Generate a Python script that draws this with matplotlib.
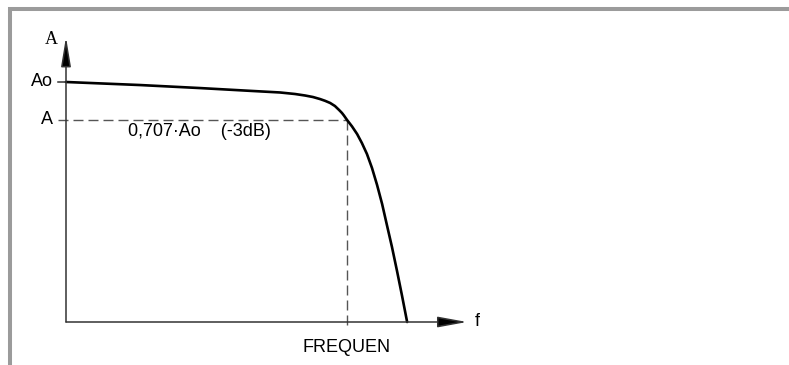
import numpy as np
import matplotlib.pyplot as plt
from matplotlib.lines import Line2D

plt.rcParams['lines.scale_dashes'] = False

# low-pass response, frequency normalised to the cut-off (f/fc), gain in dB
freq = [0.0, 0.263, 0.477, 0.655, 0.762, 0.815, 0.851, 0.879, 0.904, 0.922,
        0.940, 0.957, 0.972, 0.982, 0.989, 1.0, 1.018, 1.036, 1.053, 1.071,
        1.089, 1.107, 1.125, 1.142, 1.160, 1.178, 1.196, 1.214]
gain_db = [0.0, -0.24, -0.48, -0.70, -0.83, -0.95, -1.07, -1.19, -1.35, -1.49,
           -1.66, -1.90, -2.22, -2.45, -2.65, -3.0, -3.52, -4.12, -4.83, -5.70,
           -6.81, -8.15, -9.66, -11.32, -13.06, -14.96, -16.94, -19.0]

ao_db = 0.0        # Ao level
a_db = -3.0        # 0,707*Ao level
f_cut = 1.0
y_base = -19.0     # bottom of the amplitude axis
y_top = 3.56       # tip of the amplitude arrow
f_end = 1.427      # tip of the frequency arrow

W, H = 789, 365
x0_px, y0_px = 66, 322       # origin in pixels
sx = 281.0                   # px per unit f
sy = (y0_px - 82) / (ao_db - y_base)  # px per dB

fig = plt.figure(figsize=(W / 100, H / 100), dpi=100)
ax = fig.add_axes([0, 0, 1, 1])
ax.set_xlim(-x0_px / sx, (W - x0_px) / sx)
ax.set_ylim(y_base - (H - y0_px) / sy, y_base + y0_px / sy)
ax.axis('off')

axis_col = '#333333'
dash_col = '#555555'
sans = 'Liberation Sans'

# axes with arrow heads
ax.annotate('', xy=(0, y_top), xytext=(0, y_base),
            arrowprops=dict(arrowstyle='-|>,head_length=1.8,head_width=0.3',
                            mutation_scale=10, lw=1.1, color=axis_col,
                            fc='black', shrinkA=0, shrinkB=0))
ax.annotate('', xy=(f_end, y_base), xytext=(0, y_base),
            arrowprops=dict(arrowstyle='-|>,head_length=1.8,head_width=0.33',
                            mutation_scale=10, lw=1.1, color=axis_col,
                            fc='black', shrinkA=0, shrinkB=0))

# Ao tick and -3 dB guides
tick = 8 / sx
ax.plot([-tick, 0], [ao_db, ao_db], color=axis_col, lw=1.1)
ax.plot([-tick, f_cut], [a_db, a_db], color=dash_col, lw=1.0, dashes=(7.2, 3.6))
ax.plot([f_cut, f_cut], [a_db, y_base - 8 / sy], color=dash_col, lw=1.0,
        dashes=(7.2, 3.6))

# response curve
ax.plot(freq, gain_db, color='black', lw=1.9, solid_capstyle='round',
        solid_joinstyle='round')

# labels
ax.text(-13 / sx, ao_db, 'Ao', ha='right', va='center', fontsize=13, family=sans)
ax.text(-13 / sx, a_db, 'A', ha='right', va='center', fontsize=13, family=sans)
ax.text(-15 / sx, y_top - 0.2, 'A', ha='center', va='center', fontsize=13,
        family='Liberation Serif')
ax.text(128 / sx - x0_px / sx, a_db - 0.9, '0,707\u00b7Ao    (-3dB)', ha='left',
        va='center', fontsize=13, family=sans)
ax.text(f_cut, y_base - 26 / sy, 'FREQUEN', ha='center', va='center',
        fontsize=13, family=sans)
ax.text(f_end + 8 / sx, y_base, 'f', ha='left', va='center', fontsize=13,
        family=sans)

# grey border along top and left edges
fig.add_artist(Line2D([8 / W, 1], [1 - 9 / H, 1 - 9 / H], color='#9b9b9b',
                      lw=2.9, solid_capstyle='butt'))
fig.add_artist(Line2D([10 / W, 10 / W], [1 - 7 / H, 0], color='#9b9b9b',
                      lw=2.9, solid_capstyle='butt'))

plt.savefig('out.png', dpi=100)
